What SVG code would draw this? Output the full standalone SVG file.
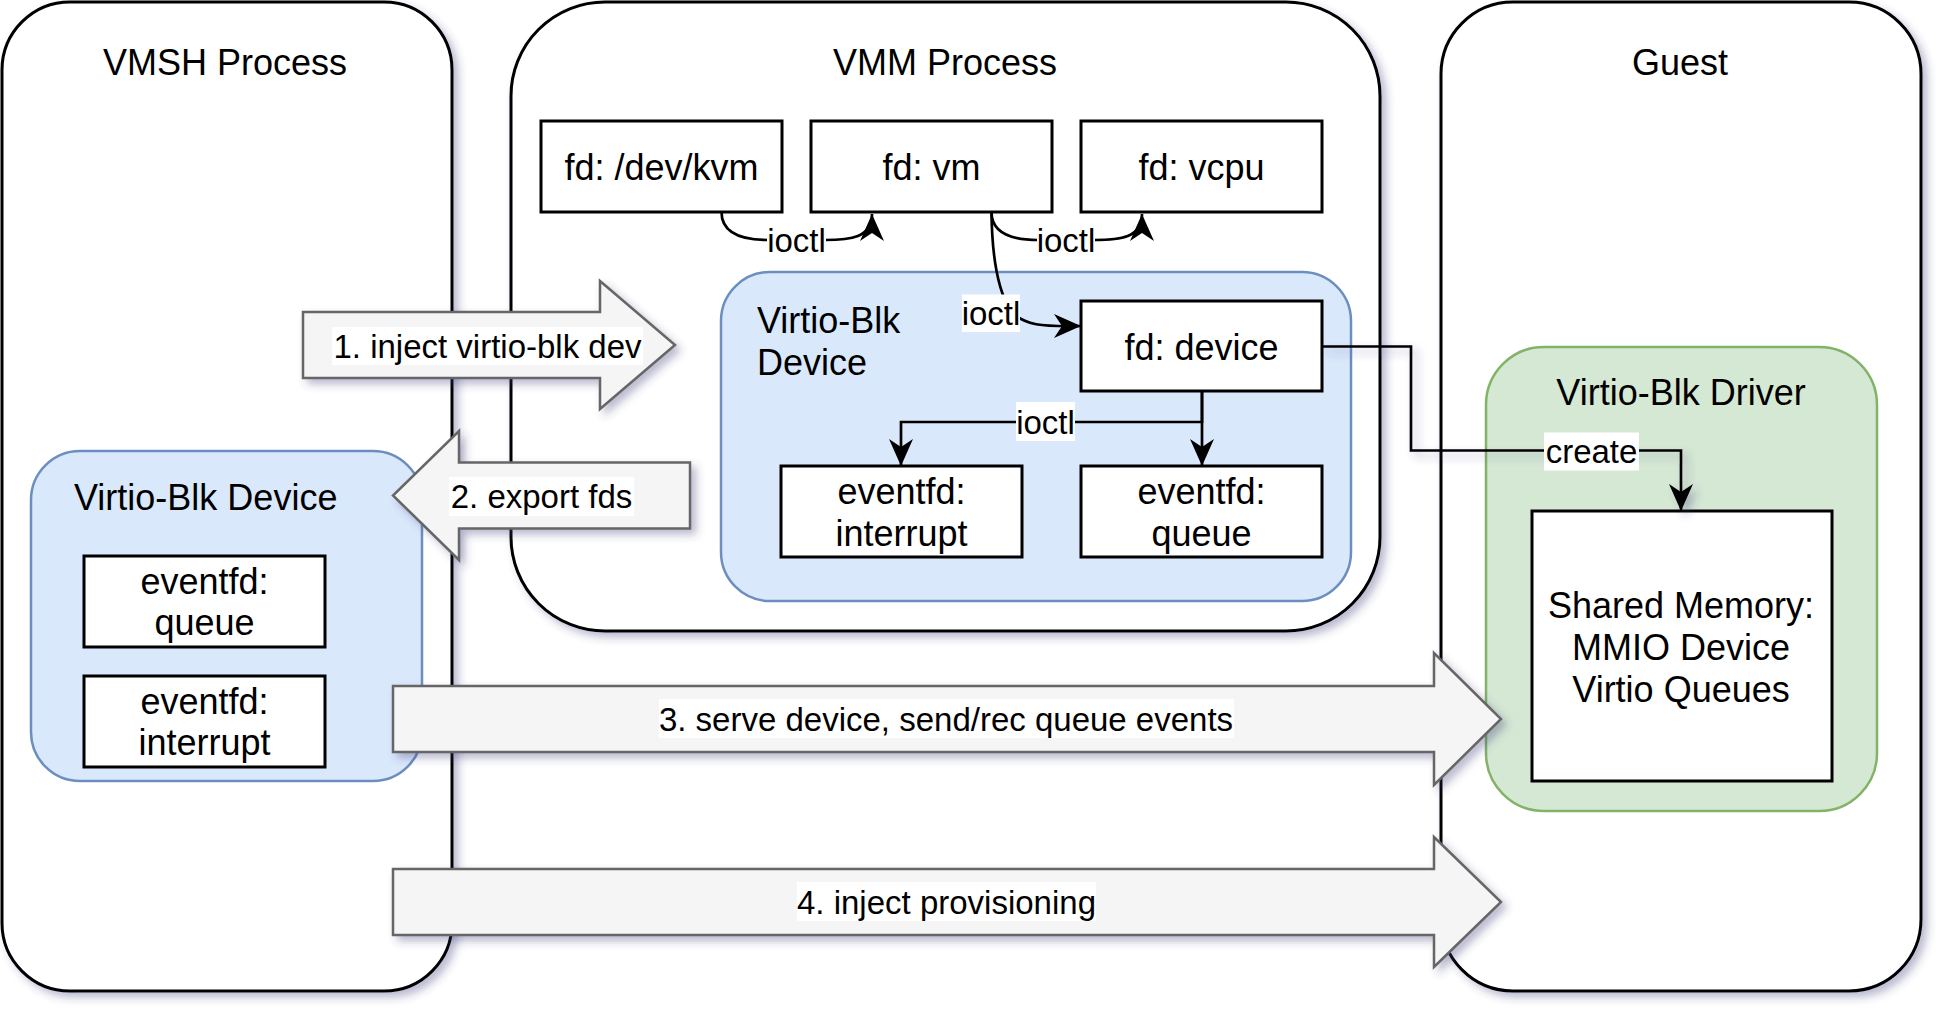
<svg xmlns="http://www.w3.org/2000/svg" width="1956" height="1026" viewBox="0 0 1956 1026">
<defs>
<filter id="sh" filterUnits="userSpaceOnUse" x="0" y="0" width="1956" height="1026">
<feDropShadow dx="5" dy="5" stdDeviation="4" flood-color="#3c3c78" flood-opacity="0.35"/>
</filter>
<marker id="arr" viewBox="-28 -13 29 26" markerWidth="29" markerHeight="26" refX="0" refY="0" orient="auto" markerUnits="userSpaceOnUse">
<path d="M0,0 L-27,-12 L-19,0 L-27,12 Z" fill="#000"/>
</marker>
<style>
.proc{fill:#fff;stroke:#000;stroke-width:3}
.blue{fill:#dae8fc;stroke:#6c8ebf;stroke-width:2.5}
.green{fill:#d5e8d4;stroke:#82b366;stroke-width:2.5}
.box{fill:#fff;stroke:#000;stroke-width:3}
.big{fill:#f5f5f5;stroke:#666;stroke-width:2.5}
.edge{fill:none;stroke:#000;stroke-width:2.7}
.t{font-family:"Liberation Sans",Arial,sans-serif;font-size:36px;fill:#000}
.c{text-anchor:middle}
.l{font-family:"Liberation Sans",Arial,sans-serif;font-size:33px;fill:#000;text-anchor:middle}
.bg{fill:#fff}
</style>
</defs>

<g id="vmsh-process">
<rect class="proc" x="2" y="2" width="450" height="989" rx="68" ry="68" filter="url(#sh)"/>
<text class="t c" x="225" y="75">VMSH Process</text>
</g>
<g id="vmm-process">
<rect class="proc" x="511" y="2" width="869" height="629" rx="94" ry="94" filter="url(#sh)"/>
<text class="t c" x="945" y="75">VMM Process</text>
</g>
<g id="guest">
<rect class="proc" x="1441" y="2" width="480" height="989" rx="72" ry="72" filter="url(#sh)"/>
<text class="t c" x="1680" y="75">Guest</text>
</g>

<g id="vmsh-virtio-blk-device">
<rect class="blue" x="31" y="451" width="391" height="330" rx="49" ry="49"/>
<text class="t" x="74" y="510">Virtio-Blk Device</text>
</g>
<g id="vmsh-eventfd-queue">
<rect class="box" x="84" y="556" width="241" height="91"/>
<text class="t c" x="204.5" y="593.5">eventfd:</text>
<text class="t c" x="204.5" y="635">queue</text>
</g>
<g id="vmsh-eventfd-interrupt">
<rect class="box" x="84" y="676" width="241" height="91"/>
<text class="t c" x="204.5" y="713.5">eventfd:</text>
<text class="t c" x="204.5" y="755">interrupt</text>
</g>

<g id="fd-kvm">
<rect class="box" x="541" y="121" width="241" height="91"/>
<text class="t c" x="661.5" y="180">fd: /dev/kvm</text>
</g>
<g id="fd-vm">
<rect class="box" x="811" y="121" width="241" height="91"/>
<text class="t c" x="931.5" y="180">fd: vm</text>
</g>
<g id="fd-vcpu">
<rect class="box" x="1081" y="121" width="241" height="91"/>
<text class="t c" x="1201.5" y="180">fd: vcpu</text>
</g>

<g id="vmm-virtio-blk-device">
<rect class="blue" x="721" y="272" width="630" height="329" rx="49" ry="49"/>
<text class="t" x="757" y="333">Virtio-Blk</text>
<text class="t" x="757" y="374.5">Device</text>
</g>
<g id="fd-device">
<rect class="box" x="1081" y="301" width="241" height="90"/>
<text class="t c" x="1201.5" y="360">fd: device</text>
</g>
<g id="vmm-eventfd-interrupt">
<rect class="box" x="781" y="466" width="241" height="91"/>
<text class="t c" x="901.5" y="504">eventfd:</text>
<text class="t c" x="901.5" y="546">interrupt</text>
</g>
<g id="vmm-eventfd-queue">
<rect class="box" x="1081" y="466" width="241" height="91"/>
<text class="t c" x="1201.5" y="504">eventfd:</text>
<text class="t c" x="1201.5" y="546">queue</text>
</g>

<g id="virtio-blk-driver">
<rect class="green" x="1486" y="347" width="391" height="464" rx="58" ry="58"/>
<text class="t c" x="1681" y="405">Virtio-Blk Driver</text>
</g>
<g id="shared-memory">
<rect class="box" x="1532" y="511" width="300" height="270"/>
<text class="t c" x="1681" y="618">Shared Memory:</text>
<text class="t c" x="1681" y="660">MMIO Device</text>
<text class="t c" x="1681" y="702">Virtio Queues</text>
</g>

<g id="connectors">
<path class="edge" d="M721.5,212 C721.5,232 740,240 768,240 L825,240 C850,240 872,238 872,214" marker-end="url(#arr)"/>
<rect class="bg" x="767" y="221" width="59" height="38"/>
<text class="l" x="796.5" y="251.5">ioctl</text>

<path class="edge" d="M991.5,212 C991.5,232 1010,240 1038,240 L1094,240 C1120,240 1142,238 1142,214" marker-end="url(#arr)"/>
<rect class="bg" x="1037" y="221" width="58" height="38"/>
<text class="l" x="1066" y="251.5">ioctl</text>

<path class="edge" d="M991.5,212 C992,260 998,290 1010,310 C1025,328 1050,326 1081,326" marker-end="url(#arr)"/>
<rect class="bg" x="962" y="294.5" width="58" height="37.5"/>
<text class="l" x="991" y="324.5">ioctl</text>

<path class="edge" d="M1202,391 L1202,466" marker-end="url(#arr)"/>
<path class="edge" d="M1202,391 L1202,422 L901,422 L901,466" marker-end="url(#arr)"/>
<rect class="bg" x="1016" y="402" width="59" height="39"/>
<text class="l" x="1045.5" y="433.5">ioctl</text>

<path class="edge" d="M1322,346.5 L1411,346.5 L1411,450.5 L1681,450.5 L1681,511" marker-end="url(#arr)" filter="url(#sh)"/>
<rect class="bg" x="1544" y="432.5" width="95" height="38"/>
<text class="l" x="1591.5" y="463">create</text>
</g>

<g id="arrow-1">
<polygon class="big" points="303,312 600,312 600,281 675,345 600,409 600,378 303,378" filter="url(#sh)"/>
<rect class="bg" x="332" y="327" width="311" height="38"/>
<text class="l" x="487.5" y="357.5">1. inject virtio-blk dev</text>
</g>
<g id="arrow-2">
<polygon class="big" points="690,462.5 459,462.5 459,431 393,495.5 459,560 459,528.5 690,528.5" filter="url(#sh)"/>
<rect class="bg" x="449" y="477" width="185" height="39"/>
<text class="l" x="541.5" y="508">2. export fds</text>
</g>
<g id="arrow-3">
<polygon class="big" points="393,686 1434,686 1434,653 1501,719 1434,785 1434,752 393,752" filter="url(#sh)"/>
<rect class="bg" x="659" y="699" width="575" height="39"/>
<text class="l" x="946" y="730.5">3. serve device, send/rec queue events</text>
</g>
<g id="arrow-4">
<polygon class="big" points="393,869 1434,869 1434,837 1501,902 1434,967 1434,935 393,935" filter="url(#sh)"/>
<rect class="bg" x="797" y="882" width="299" height="39"/>
<text class="l" x="946.5" y="913.5">4. inject provisioning</text>
</g>
</svg>
